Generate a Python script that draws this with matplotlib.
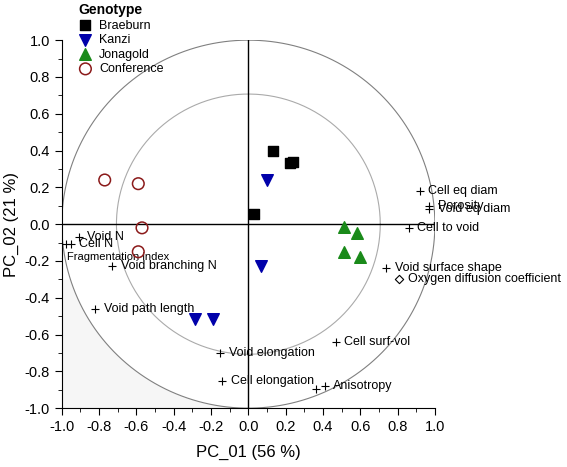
import numpy as np
import matplotlib
matplotlib.use("Agg")
import matplotlib.pyplot as plt
from matplotlib.ticker import MultipleLocator, FormatStrFormatter

plt.rcParams['font.family'] = ['Liberation Sans', 'DejaVu Sans']

# scores
braeburn_x = [0.133, 0.223, 0.238, 0.03]
braeburn_y = [0.395, 0.33, 0.337, 0.056]
kanzi_x = [0.098, 0.07, -0.288, -0.19]
kanzi_y = [0.24, -0.23, -0.516, -0.516]
jonagold_x = [0.513, 0.58, 0.513, 0.596]
jonagold_y = [-0.016, -0.05, -0.154, -0.176]
conference_x = [-0.77, -0.59, -0.57, -0.59]
conference_y = [0.24, 0.22, -0.02, -0.15]

# loadings
var_names = ["Cell eq diam", "Porosity", "Void eq diam", "Cell to void",
             "Void surface shape", "Cell surf-vol", "Anisotropy",
             "Void elongation", "Cell elongation", "Void path length",
             "Void branching N", "Void N", "Cell N", "Fragmentation index"]
var_x = [0.92, 0.97, 0.97, 0.86, 0.74, 0.47, 0.41, -0.15, -0.14, -0.82,
         -0.73, -0.91, -0.95, -0.98]
var_y = [0.18, 0.10, 0.08, -0.02, -0.24, -0.64, -0.88, -0.70, -0.85, -0.46,
         -0.23, -0.07, -0.11, -0.11]
extra_x = [0.36]          # second + of anisotropy
extra_y = [-0.895]
oxy_name = "Oxygen diffusion coefficient"
oxy_x = [0.81]
oxy_y = [-0.30]

fig = plt.figure(figsize=(5.67, 4.67), dpi=100)
ax = fig.add_axes([0.109, 0.126, 0.658, 0.788])

t = np.linspace(0, 2 * np.pi, 400)
ax.plot(np.cos(t), np.sin(t), color='#808080', lw=0.8, zorder=1)
r2 = np.sqrt(0.5)
ax.plot(r2 * np.cos(t), r2 * np.sin(t), color='#aaaaaa', lw=0.8, zorder=1)

# light shading in lower left corner
yy = np.linspace(-1, -0.3, 100)
xx = -np.sqrt(1 - yy ** 2)
ax.fill_betweenx(yy, -1, xx, color='#f6f6f6', lw=0, zorder=0)

ax.axhline(0, color='black', lw=1, zorder=2)
ax.axvline(0, color='black', lw=1, zorder=2)

ax.scatter(var_x, var_y, marker='+', color='black', s=30, lw=0.8, zorder=3)
ax.scatter(extra_x, extra_y, marker='+', color='black', s=30, lw=0.8, zorder=3)
ax.scatter(oxy_x, oxy_y, marker='D', facecolor='white', edgecolor='black',
           s=18, lw=0.8, zorder=3)

for name, x, y in zip(var_names, var_x, var_y):
    if name == "Fragmentation index":
        ax.annotate(name, (x, y), xytext=(1, -9), textcoords='offset points',
                    fontsize=8, va='center', ha='left')
    else:
        ax.annotate(name, (x, y), xytext=(6, 0), textcoords='offset points',
                    fontsize=9, va='center', ha='left')
ax.annotate(oxy_name, (oxy_x[0], oxy_y[0]), xytext=(6, 0),
            textcoords='offset points', fontsize=9, va='center', ha='left')

h1 = ax.scatter(braeburn_x, braeburn_y, marker='s', color='black', s=55, zorder=4,
                label='Braeburn')
h2 = ax.scatter(kanzi_x, kanzi_y, marker='v', color='#0000aa', s=70, zorder=4,
                label='Kanzi')
h3 = ax.scatter(jonagold_x, jonagold_y, marker='^', color='#1a8a1a', s=70, zorder=4,
                label='Jonagold')
h4 = ax.scatter(conference_x, conference_y, marker='o', facecolor='none',
                edgecolor='#8b1a1a', s=70, lw=1.1, zorder=4, label='Conference')

ax.set_xlim(-1, 1)
ax.set_ylim(-1, 1)
ax.spines['top'].set_visible(False)
ax.spines['right'].set_visible(False)
ax.xaxis.set_major_locator(MultipleLocator(0.2))
ax.xaxis.set_minor_locator(MultipleLocator(0.1))
ax.yaxis.set_major_locator(MultipleLocator(0.2))
ax.yaxis.set_minor_locator(MultipleLocator(0.1))
ax.xaxis.set_major_formatter(FormatStrFormatter('%.1f'))
ax.yaxis.set_major_formatter(FormatStrFormatter('%.1f'))
ax.tick_params(which='major', direction='out', length=5, labelsize=10.5)
ax.tick_params(which='minor', direction='out', length=3)
ax.set_xlabel('PC_01 (56 %)', fontsize=12, labelpad=8)
ax.set_ylabel('PC_02 (21 %)', fontsize=12, labelpad=4)

leg = fig.legend(handles=[h1, h2, h3, h4], title='Genotype',
                 loc='upper left', bbox_to_anchor=(0.122, 1.012), frameon=False,
                 fontsize=9, title_fontsize=10, handletextpad=0.5,
                 labelspacing=0.2, borderpad=0.2, handlelength=1.2,
                 markerscale=1.0)
leg.get_title().set_fontweight('bold')
leg._legend_box.align = 'left'

fig.savefig('out.png', dpi=100)
